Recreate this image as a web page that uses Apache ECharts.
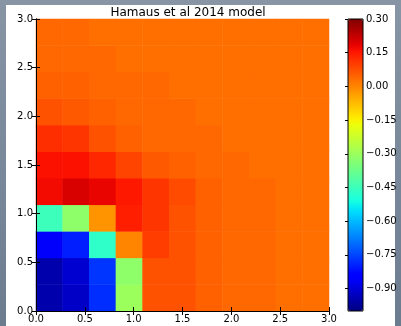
<!DOCTYPE html>
<html>
<head>
<meta charset="utf-8">
<script src="https://cdn.jsdelivr.net/npm/echarts@6/dist/echarts.min.js"></script>
<style>
html,body{margin:0;padding:0;width:401px;height:326px;overflow:hidden;}
body{background:linear-gradient(to bottom,#8795a5,#6c7c8f);position:relative;}
#paper{position:absolute;left:6px;top:5px;width:389px;height:321px;background:#fff;}
#chart{position:absolute;left:0;top:0;width:401px;height:326px;}
</style>
</head>
<body>
<div id="paper"></div>
<div id="chart"></div>
<script>
// cell index categories (11 bins over 0..3)
var xBins = ['0','1','2','3','4','5','6','7','8','9','10'];
var yBins = ['0','1','2','3','4','5','6','7','8','9','10'];
// values by row, bottom (row0) to top (row10)
var row0  = [-0.95,-0.92,-0.78,-0.30, 0.07, 0.07, 0.05, 0.04, 0.04, 0.03, 0.03];
var row1  = [-0.95,-0.91,-0.77,-0.32, 0.07, 0.07, 0.05, 0.04, 0.04, 0.03, 0.03];
var row2  = [-0.86,-0.80,-0.47, 0.00, 0.10, 0.07, 0.05, 0.04, 0.04, 0.03, 0.03];
var row3  = [-0.45,-0.32,-0.02, 0.14, 0.11, 0.07, 0.05, 0.04, 0.04, 0.03, 0.03];
var row4  = [ 0.17, 0.20, 0.18, 0.15, 0.11, 0.08, 0.05, 0.04, 0.04, 0.03, 0.03];
var row5  = [ 0.16, 0.16, 0.13, 0.09, 0.06, 0.05, 0.04, 0.04, 0.03, 0.03, 0.03];
var row6  = [ 0.12, 0.11, 0.07, 0.05, 0.04, 0.04, 0.04, 0.03, 0.03, 0.03, 0.03];
var row7  = [ 0.07, 0.06, 0.05, 0.04, 0.04, 0.04, 0.03, 0.03, 0.03, 0.03, 0.03];
var row8  = [ 0.05, 0.05, 0.04, 0.04, 0.04, 0.03, 0.03, 0.03, 0.03, 0.03, 0.03];
var row9  = [ 0.04, 0.04, 0.04, 0.03, 0.03, 0.03, 0.03, 0.03, 0.03, 0.03, 0.03];
var row10 = [ 0.04, 0.04, 0.03, 0.03, 0.03, 0.03, 0.03, 0.03, 0.03, 0.03, 0.03];
var rows = [row0,row1,row2,row3,row4,row5,row6,row7,row8,row9,row10];
var axisTicks = [0, 0.5, 1.0, 1.5, 2.0, 2.5, 3.0];
var cbarTicks = [-0.90,-0.75,-0.60,-0.45,-0.30,-0.15,0.00,0.15,0.30];
var cbarMin = -1.0, cbarMax = 0.30;

function jet(t){
  function cl(v){return Math.max(0,Math.min(1,v));}
  function interp(pts){
    for(var k=0;k<pts.length-1;k++){
      var a=pts[k],b=pts[k+1];
      if(t>=a[0]&&t<=b[0]){return a[1]+(b[1]-a[1])*(t-a[0])/(b[0]-a[0]);}
    }
    return pts[pts.length-1][1];
  }
  var r=interp([[0,0],[0.35,0],[0.66,1],[0.89,1],[1,0.5]]);
  var g=interp([[0,0],[0.125,0],[0.375,1],[0.64,1],[0.91,0],[1,0]]);
  var b=interp([[0,0.5],[0.11,1],[0.34,1],[0.65,0],[1,0]]);
  return 'rgb('+Math.round(cl(r)*255)+','+Math.round(cl(g)*255)+','+Math.round(cl(b)*255)+')';
}
var jetColors=[];
for(var k=0;k<=64;k++){jetColors.push(jet(k/64));}

var data=[];
rows.forEach(function(r,j){r.forEach(function(v,i){data.push([i,j,v]);});});

var font='DejaVu Sans';
function fmt1(v){return v.toFixed(1);}
function fmtC(v){var s=Math.abs(v).toFixed(2);return (v< -1e-9?'\u2212':'')+s;}

var chart=echarts.init(document.getElementById('chart'),null,{renderer:'canvas'});
var axLine={show:true,lineStyle:{color:'#000',width:1}};
var axTick={show:true,inside:true,length:4,lineStyle:{color:'#000',width:1}};
chart.setOption({
  animation:false,
  backgroundColor:'transparent',
  title:{text:'Hamaus et al 2014 model',left:183,textAlign:'center',top:2,
    textStyle:{fontFamily:font,fontSize:12,fontWeight:'normal',color:'#000'}},
  grid:[
    {left:36,top:19,width:293,height:292},
    {left:36,top:19,width:293,height:292,z:10},
    {left:348,top:19,width:15,height:292,show:true,borderColor:'#000',borderWidth:1,backgroundColor:'transparent',z:10}
  ],
  xAxis:[
    {gridIndex:0,type:'category',data:xBins,show:false},
    {gridIndex:1,type:'value',min:0,max:3,interval:0.5,position:'bottom',z:10,
      axisLine:axLine,axisTick:axTick,splitLine:{show:false},
      axisLabel:{fontFamily:font,fontSize:10,color:'#000',margin:3,formatter:fmt1,customValues:axisTicks}},
    {gridIndex:1,type:'value',min:0,max:3,interval:0.5,position:'top',z:10,
      axisLine:axLine,axisTick:axTick,splitLine:{show:false},axisLabel:{show:false}},
    {gridIndex:2,type:'value',min:0,max:1,show:false}
  ],
  yAxis:[
    {gridIndex:0,type:'category',data:yBins,show:false},
    {gridIndex:1,type:'value',min:0,max:3,interval:0.5,position:'left',z:10,
      axisLine:axLine,axisTick:axTick,splitLine:{show:false},
      axisLabel:{fontFamily:font,fontSize:10,color:'#000',margin:3,formatter:fmt1}},
    {gridIndex:1,type:'value',min:0,max:3,interval:0.5,position:'right',z:10,
      axisLine:axLine,axisTick:axTick,splitLine:{show:false},axisLabel:{show:false}},
    {gridIndex:2,type:'value',min:cbarMin,max:cbarMax,position:'right',z:10,
      axisLine:{show:false},splitLine:{show:false},
      axisTick:{show:true,inside:true,length:3,lineStyle:{color:'#000'},customValues:cbarTicks},
      axisLabel:{fontFamily:font,fontSize:10,color:'#000',margin:3,formatter:fmtC,customValues:cbarTicks}}
  ],
  visualMap:{
    type:'continuous',min:cbarMin,max:cbarMax,seriesIndex:0,calculable:false,hoverLink:false,
    orient:'vertical',left:348,top:19,itemWidth:15,itemHeight:292,padding:0,
    inRange:{color:jetColors}
  },
  series:[{
    type:'heatmap',xAxisIndex:0,yAxisIndex:0,data:data,progressive:0,
    itemStyle:{borderWidth:0},emphasis:{disabled:true}
  }]
});
</script>
</body>
</html>
